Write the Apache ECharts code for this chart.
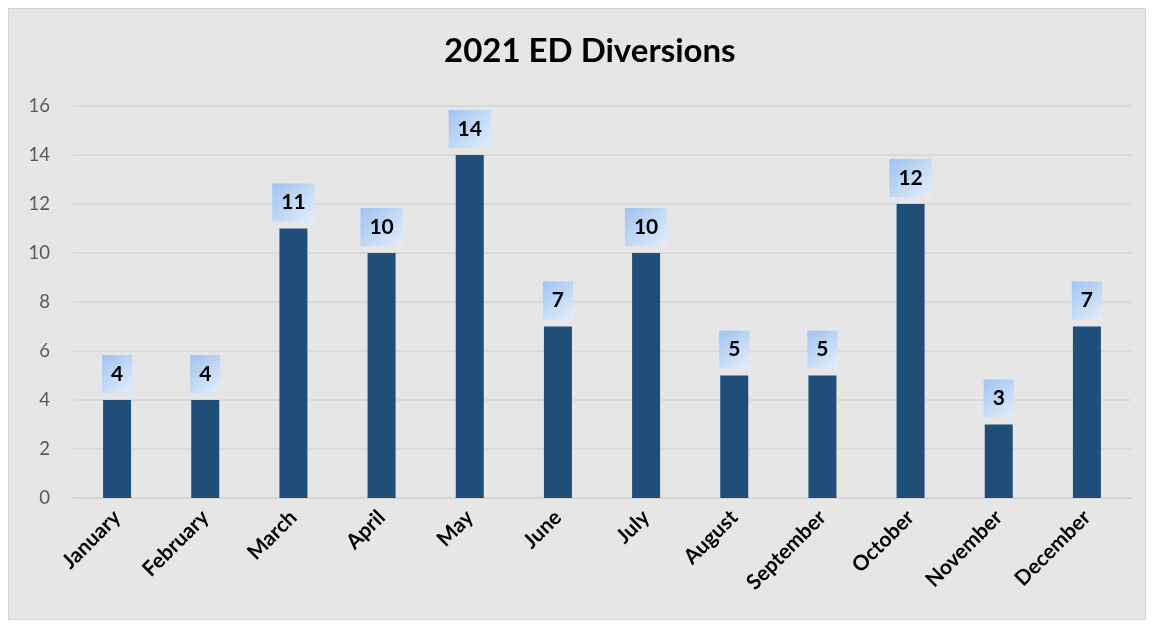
<!DOCTYPE html>
<html><head><meta charset="utf-8">
<script src="https://cdn.jsdelivr.net/npm/echarts@6/dist/echarts.min.js"></script>
<style>html,body{margin:0;padding:0;background:#fff}#c{width:1153px;height:625px}</style>
</head><body><div id="c"></div>
<script>
const months = ['January','February','March','April','May','June','July','August','September','October','November','December'];
const diversions = [4,4,11,10,14,7,10,5,5,12,3,7];
const yTicks = [0,2,4,6,8,10,12,14,16];

const chart = echarts.init(document.getElementById('c'));
const font = 'Lato, "Open Sans", sans-serif';
chart.setOption({
  backgroundColor: '#ffffff',
  graphic: [{type:'rect', z:-10, silent:true, shape:{x:8.5,y:8.5,width:1137,height:611}, style:{fill:'#e6e6e6', stroke:'#d4d4d4', lineWidth:1}}],
  title: {text:'2021 ED Diversions', left:439, top:30, textStyle:{fontFamily:font, fontSize:33, fontWeight:'bold', color:'#000'}},
  grid: {left:73, right:22, top:106, bottom:127},
  xAxis: {type:'category', data: months,
    axisLine:{lineStyle:{color:'#d4d4d4', width:1.5}}, axisTick:{show:false},
    axisLabel:{rotate:45, interval:0, fontFamily:font, fontSize:21, fontWeight:'bold', color:'#000', margin:16}},
  yAxis: {type:'value', min:yTicks[0], max:yTicks[yTicks.length-1], interval:2,
    axisLine:{show:false}, axisTick:{show:false},
    splitLine:{lineStyle:{color:'#d4d4d4', width:1.5}},
    axisLabel:{fontFamily:font, fontSize:18.5, color:'#595959', margin:23}},
  series: [{type:'bar', data: diversions, barWidth:28,
    itemStyle:{color:'#1f4e79'},
    label:{show:true, position:'top', distance:7, fontFamily:font, fontSize:21, fontWeight:'bold', color:'#000',
      padding:[8,9,8,9], lineHeight:22,
      backgroundColor:{type:'linear', x:0, y:0, x2:1, y2:1, colorStops:[{offset:0,color:'#9fc3f1'},{offset:1,color:'#e3eefc'}]}}
  }]
});
</script></body></html>
